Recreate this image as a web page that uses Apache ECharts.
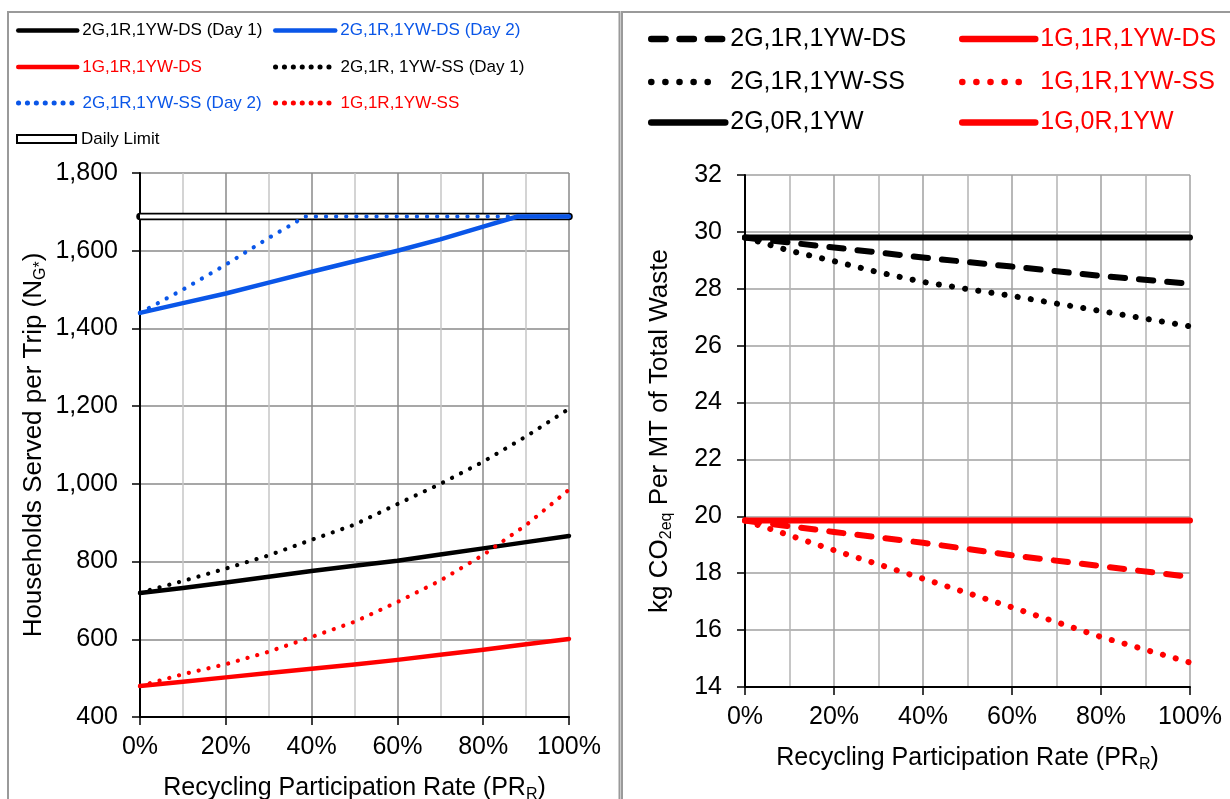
<!DOCTYPE html>
<html><head><meta charset="utf-8">
<script src="https://cdn.jsdelivr.net/npm/echarts@6/dist/echarts.min.js"></script>
<style>html,body{margin:0;padding:0;background:#fff}#c{width:1230px;height:799px}</style>
</head><body><div id="c"></div>
<script>
// ---------- DATA ----------
// Left chart: Households served per trip vs recycling participation rate (%)
const leftX = [0,10,20,30,40,50,60,70,80,90,100];
const ds2Day1 = [719,732,746,761,776,789,802,818,834,850,866];          // 2G,1R,1YW-DS (Day 1)
const ds1     = [480,491,502,513,524,535,547,560,573,587,601];          // 1G,1R,1YW-DS
const ss2Day1 = [720,750,782,816,856,895,948,1000,1057,1122,1193];      // 2G,1R, 1YW-SS (Day 1)
const ss1     = [480,510,536,568,606,645,696,751,817,894,985];          // 1G,1R,1YW-SS
const ds2Day2X = [0,10,20,30,40,50,60,70,80,88,90,100];
const ds2Day2  = [1440,1465,1490,1518,1546,1573,1600,1629,1662,1688,1688,1688]; // 2G,1R,1YW-DS (Day 2)
const ss2Day2X = [0,10,20,30,35,38.5,40,50,60,70,80,90,100];
const ss2Day2  = [1440,1500,1564,1633,1665,1688,1688,1688,1688,1688,1688,1688,1688]; // 2G,1R,1YW-SS (Day 2)
const limitX = [0,100];
const dailyLimit = [1688,1688];
const leftYTicks = [400,600,800,1000,1200,1400,1600,1800];

// Right chart: kg CO2eq per MT of total waste
const rightX = [0,20,40,60,80,100];
const r2DS = [29.8,29.45,29.1,28.78,28.45,28.18];        // 2G,1R,1YW-DS
const r1DS = [19.85,19.45,19.07,18.63,18.25,17.87];      // 1G,1R,1YW-DS
const r2SSX = [0,10,20,30,40,50,60,70,80,90,100];
const r2SS = [29.8,29.34,28.97,28.58,28.24,27.99,27.75,27.48,27.22,26.95,26.68]; // 2G,1R,1YW-SS
const r1SS = [19.85,18.81,17.81,16.8,15.76,14.86];       // 1G,1R,1YW-SS
const r2None = [29.8,29.8,29.8,29.8,29.8,29.8];          // 2G,0R,1YW
const r1None = [19.85,19.85,19.85,19.85,19.85,19.85];    // 1G,0R,1YW
const rightYTicks = [14,16,18,20,22,24,26,28,30,32];

// ---------- STYLE ----------
const FONT = "'Liberation Sans', Arial, Helvetica, sans-serif";
const BLACK = '#000000', RED = '#FF0000', BLUE = '#0A56E8';
const pair = (xs, ys) => xs.map((x, i) => [x, ys[i]]);

const chart = echarts.init(document.getElementById('c'), null, {renderer: 'canvas'});

function mkLine(name, xi, xs, ys, color, width, type, z) {
  return {
    name, type: 'line', xAxisIndex: xi, yAxisIndex: xi, data: pair(xs, ys),
    symbol: 'none', showSymbol: false, silent: true, z: z || 2,
    lineStyle: {color, width, type: type || 'solid', cap: 'round', join: 'round'},
    itemStyle: {color},
    emphasis: {disabled: true}
  };
}

function leg(name, left, cy, color, fs, iw, lw, extra) {
  const ih = 14;
  const d = Object.assign({name, textStyle: {color}}, (extra && extra.data) || {});
  const ls = {width: lw};
  if (extra && extra.dash) { ls.type = extra.dash; ls.cap = 'round'; }
  const ts = {fontSize: fs, fontFamily: FONT, color};
  if (extra && extra.padLeft) ts.padding = [0, 0, 0, extra.padLeft];
  return {
    data: [d], left, top: cy - ih / 2, orient: 'horizontal',
    itemWidth: iw, itemHeight: ih, padding: 0, selectedMode: false,
    textStyle: ts,
    itemStyle: {opacity: 0},
    lineStyle: ls
  };
}

const sub = (fs) => ({fontSize: fs, fontFamily: FONT, color: BLACK, lineHeight: 16, verticalAlign: 'bottom'});
const base = (fs) => ({fontSize: fs, fontFamily: FONT, color: BLACK, lineHeight: 30});

const LDOT = [0.1, 10];
const RDASH = [14.3, 14];
const RDOT = [0.1, 13.2];
const LEG_LDOT = [0.1, 8.8];
const LEG_RDOT = [0.1, 14];

const option = {
  animation: false,
  backgroundColor: '#fff',
  graphic: [
    {type: 'rect', shape: {x: 8, y: 12, width: 611.5, height: 820}, style: {fill: 'none', stroke: '#9a9a9a', lineWidth: 2}, silent: true},
    {type: 'rect', shape: {x: 622, y: 12, width: 700, height: 820}, style: {fill: 'none', stroke: '#9a9a9a', lineWidth: 2}, silent: true}
  ],
  legend: [
    leg('2G,1R,1YW-DS (Day 1)', 16, 29, BLACK, 17, 59, 4.5),
    leg('2G,1R,1YW-DS (Day 2)', 273, 29, BLUE, 17, 60, 4.5),
    leg('1G,1R,1YW-DS', 16, 65.5, RED, 17, 59, 4.5),
    leg('2G,1R, 1YW-SS (Day 1)', 273, 65.5, BLACK, 17, 60, 5, {dash: LEG_LDOT}),
    leg('2G,1R,1YW-SS (Day 2)', 16, 101.5, BLUE, 17, 59, 5, {dash: LEG_LDOT}),
    leg('1G,1R,1YW-SS', 273, 101.5, RED, 17, 60, 5, {dash: LEG_LDOT}),
    leg('Daily Limit', 16, 137.5, BLACK, 17, 59, 0, {data: {icon: 'path://M0,0h60v8h-60z', itemStyle: {color: '#fff', borderColor: '#000', borderWidth: 2, opacity: 1}}}),
    leg('2G,1R,1YW-DS', 648, 33.5, BLACK, 25, 74, 6.5),
    leg('1G,1R,1YW-DS', 959, 33.5, RED, 25, 73, 6.5),
    leg('2G,1R,1YW-SS', 648, 76.5, BLACK, 25, 64, 6.5, {dash: LEG_RDOT, padLeft: 10}),
    leg('1G,1R,1YW-SS', 959, 76.5, RED, 25, 64, 6.5, {dash: LEG_RDOT, padLeft: 9}),
    leg('2G,0R,1YW', 648, 117, BLACK, 25, 74, 6.5),
    leg('1G,0R,1YW', 959, 117, RED, 25, 73, 6.5)
  ],
  grid: [
    {left: 140, top: 173, width: 429, height: 544, containLabel: false, outerBoundsMode: 'none'},
    {left: 745, top: 175, width: 445, height: 512, containLabel: false, outerBoundsMode: 'none'}
  ],
  xAxis: [0, 1].map(i => ({
    gridIndex: i, type: 'value', min: 0, max: 100, interval: 20,
    axisLine: {onZero: false, lineStyle: {color: BLACK, width: 2}},
    axisTick: {show: true, length: 8, lineStyle: {color: BLACK, width: 1.5}},
    axisLabel: {formatter: v => v + '%', fontSize: 25, fontFamily: FONT, color: BLACK, margin: 18},
    splitLine: {show: true, lineStyle: {color: i === 0 ? '#8a8a8a' : '#a0a0a0', width: 1.5}},
    minorTick: {show: false, splitNumber: 2},
    minorSplitLine: {show: true, lineStyle: {color: i === 0 ? '#c6c6c6' : '#b4b4b4', width: 1.5}},
    name: '{a|Recycling Participation Rate (PR}{s|R}{a|)}',
    nameLocation: 'middle', nameGap: 56,
    nameTextStyle: {rich: {a: base(25), s: sub(16)}}
  })),
  yAxis: [
    {
      gridIndex: 0, type: 'value', min: leftYTicks[0], max: leftYTicks[leftYTicks.length - 1], interval: 200,
      axisLine: {show: true, lineStyle: {color: BLACK, width: 2}},
      axisTick: {show: true, length: 8, lineStyle: {color: BLACK, width: 1.5}},
      axisLabel: {formatter: v => v.toLocaleString('en-US'), fontSize: 25, fontFamily: FONT, color: BLACK, margin: 22},
      splitLine: {show: true, lineStyle: {color: '#8a8a8a', width: 1.5}},
      name: '{a|Households Served per Trip (N}{s|G*}{a|)}',
      nameLocation: 'middle', nameGap: 91,
      nameTextStyle: {rich: {a: base(26), s: sub(16)}}
    },
    {
      gridIndex: 1, type: 'value', min: rightYTicks[0], max: rightYTicks[rightYTicks.length - 1], interval: 2,
      axisLine: {show: true, lineStyle: {color: BLACK, width: 2}},
      axisTick: {show: true, length: 8, lineStyle: {color: BLACK, width: 1.5}},
      axisLabel: {fontSize: 25, fontFamily: FONT, color: BLACK, margin: 23},
      splitLine: {show: true, lineStyle: {color: '#a0a0a0', width: 1.5}},
      name: '{a|kg CO}{s|2eq}{a| Per MT of Total Waste}',
      nameLocation: 'middle', nameGap: 70,
      nameTextStyle: {rich: {a: base(26), s: sub(16)}}
    }
  ],
  series: [
    mkLine('Daily Limit', 0, limitX, dailyLimit, BLACK, 7.5, 'solid', 2),
    Object.assign(mkLine('limit-inner', 0, limitX, dailyLimit, '#ffffff', 3.8, 'solid', 3), {lineStyle: {color: '#fff', width: 3.8, cap: 'butt'}}),
    mkLine('2G,1R,1YW-DS (Day 1)', 0, leftX, ds2Day1, BLACK, 4.5, 'solid', 4),
    mkLine('1G,1R,1YW-DS', 0, leftX, ds1, RED, 4.5, 'solid', 4),
    mkLine('2G,1R, 1YW-SS (Day 1)', 0, leftX, ss2Day1, BLACK, 4.2, LDOT, 4),
    mkLine('1G,1R,1YW-SS', 0, leftX, ss1, RED, 4.2, LDOT, 4),
    mkLine('2G,1R,1YW-SS (Day 2)', 0, ss2Day2X, ss2Day2, BLUE, 4.2, LDOT, 4),
    mkLine('2G,1R,1YW-DS (Day 2)', 0, ds2Day2X, ds2Day2, BLUE, 4.5, 'solid', 5),

    mkLine('2G,0R,1YW', 1, rightX, r2None, BLACK, 6, 'solid', 4),
    mkLine('1G,0R,1YW', 1, rightX, r1None, RED, 6, 'solid', 4),
    mkLine('2G,1R,1YW-DS', 1, rightX, r2DS, BLACK, 6, RDASH, 4),
    mkLine('1G,1R,1YW-DS', 1, rightX, r1DS, RED, 6, RDASH, 4),
    mkLine('2G,1R,1YW-SS', 1, r2SSX, r2SS, BLACK, 6, RDOT, 4),
    mkLine('1G,1R,1YW-SS', 1, rightX, r1SS, RED, 6, RDOT, 4)
  ]
};
chart.setOption(option);
</script></body></html>
